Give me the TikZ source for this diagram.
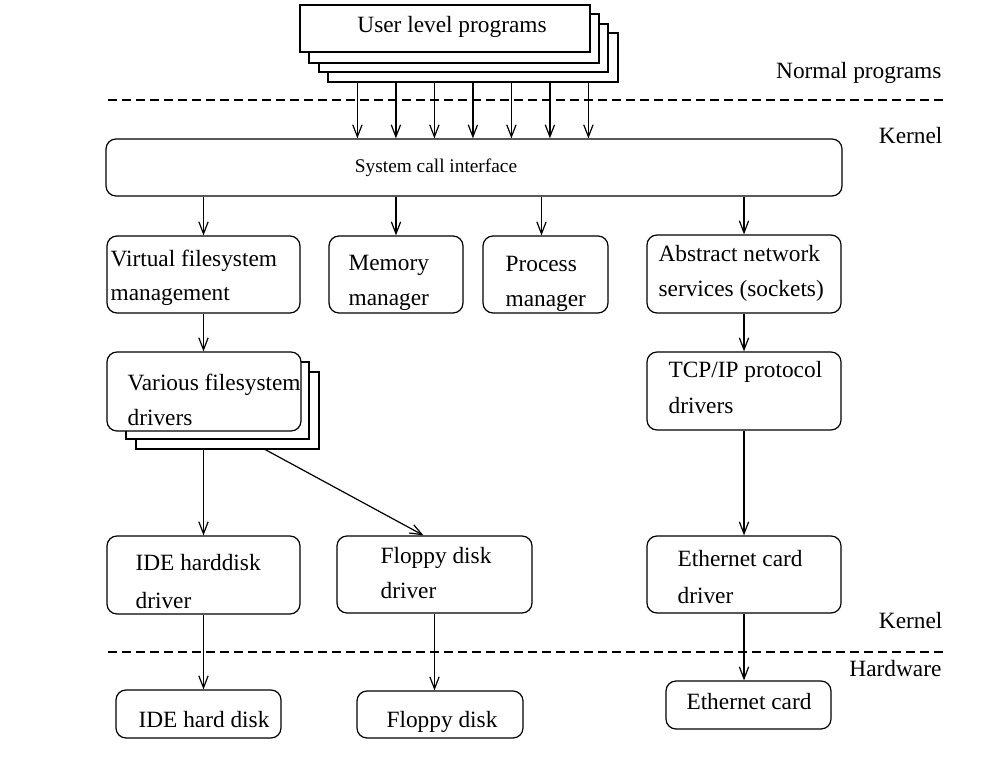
\documentclass[tikz,border=0pt]{standalone}
\usepackage{fontspec}
\setmainfont{Liberation Serif}
\usetikzlibrary{fit,calc,arrows.meta}
\begin{document}
\begin{tikzpicture}[x=0.75pt,y=-0.75pt,
  line width=0.9pt,
  box/.style={draw, rounded corners=7.5pt, inner sep=0pt, fill=white},
  sqbox/.style={draw, inner sep=0pt, fill=white},
  lbl/.style={inner sep=0pt, font=\fontsize{17.5}{20}\selectfont},
  arr/.style={-{Straight Barb[length=9pt,width=7pt]}},
  sep/.style={dash pattern=on 7pt off 3.5pt}
]
\useasboundingbox (0,0) rectangle (984,762);

% user level programs stack
\node[sqbox, fit={(328,33)(618,82)}] (prog4) {};
\node[sqbox, fit={(319,24)(608,72)}] (prog3) {};
\node[sqbox, fit={(309,14)(599,63)}] (prog2) {};
\node[sqbox, fit={(300,5)(590,52)}] (prog1) {};
\node[lbl] (progt) at (452,27) {User level programs};

% separators and region labels
\draw[sep] (108,100) -- (945,100);
\draw[sep] (108,652) -- (945,652);
\node[lbl, anchor=mid east] (normal) at (942,75) {Normal programs};
\node[lbl, anchor=mid east] (kern1) at (943,140) {Kernel};
\node[lbl, anchor=mid east] (kern2) at (943,625) {Kernel};
\node[lbl, anchor=mid east] (hw) at (942,673) {Hardware};

% system call interface
\node[box, fit={(106,139)(842,196)}] (sys) {};
\node[lbl, font=\fontsize{14.5}{17}\selectfont] (syst) at (436,168) {System call interface};

\foreach \d in {0,...,6} {
  \path ($(prog4.south west)+(30+38.5*\d,0)$) coordinate (t\d);
  \draw[arr] (t\d) -- (t\d |- sys.north);
}

% second row
\node[box, fit={(107,236)(300,313)}] (vfs) {};
\node[lbl, anchor=mid west] (vfs1) at (110,263) {Virtual filesystem};
\node[lbl, anchor=mid west] (vfs2) at (110,297) {management};

\node[box, fit={(329,236)(463,313)}] (mem) {};
\node[lbl, anchor=mid west] (mem1) at (348,267) {Memory};
\node[lbl, anchor=mid west] (mem2) at (348,302) {manager};

\node[box, fit={(483,236)(608,313)}] (proc) {};
\node[lbl, anchor=mid west] (proc1) at (505,268) {Process};
\node[lbl, anchor=mid west] (proc2) at (505,303) {manager};

\node[box, fit={(647,235)(841,313)}] (net) {};
\node[lbl, anchor=mid west] (net1) at (658,258) {Abstract network};
\node[lbl, anchor=mid west] (net2) at (658,293) {services (sockets)};

\draw[arr] (sys.south -| vfs.north) -- (vfs.north);
\draw[arr] (sys.south -| mem.north) -- (mem.north);
\draw[arr] ($(sys.south -| proc.north)+(-4,0)$) -- ($(proc.north)+(-4,0)$);
\draw[arr] (sys.south -| net.north) -- (net.north);

% third row
\node[sqbox, fit={(136,372)(319,449)}] (vsh2) {};
\node[sqbox, fit={(126,362)(309,439)}] (vsh1) {};
\node[box, fit={(107,352)(301,431)}] (various) {};
\node[lbl, anchor=mid west] (var1) at (127,387) {Various filesystem};
\node[lbl, anchor=mid west] (var2) at (127,422) {drivers};

\node[box, fit={(647,352)(841,430)}] (tcp) {};
\node[lbl, anchor=mid west] (tcp1) at (668,374) {TCP/IP protocol};
\node[lbl, anchor=mid west] (tcp2) at (668,410) {drivers};

\draw[arr] (vfs.south) -- (vfs.south |- various.north);
\draw[arr] (net.south) -- (tcp.north);

% fourth row
\node[box, fit={(107,536)(300,614)}] (ide) {};
\node[lbl, anchor=mid west] (ide1) at (135,567) {IDE harddisk};
\node[lbl, anchor=mid west] (ide2) at (135,605) {driver};

\node[box, fit={(337,536)(532,613)}] (fdd) {};
\node[lbl, anchor=mid west] (fdd1) at (380,560) {Floppy disk};
\node[lbl, anchor=mid west] (fdd2) at (380,595) {driver};

\node[box, fit={(647,536)(841,613)}] (eth) {};
\node[lbl, anchor=mid west] (eth1) at (677,563) {Ethernet card};
\node[lbl, anchor=mid west] (eth2) at (677,600) {driver};

\path ($(vsh2.south west)!0.705!(vsh2.south east)$) coordinate (dstart);
\draw[arr] (vsh2.south -| ide.north) -- (ide.north);
\draw[arr] (dstart) -- ($(fdd.north)+(-11,0)$);
\draw[arr] (tcp.south) -- (eth.north);

% hardware row
\node[box, fit={(116,690)(281,738)}] (idedisk) {};
\node[lbl] (idedt) at (204,720) {IDE hard disk};
\node[box, fit={(357,691)(523,738)}] (floppy) {};
\node[lbl] (flopt) at (442,722) {Floppy disk};
\node[box, fit={(666,681)(831,729)}] (ethcard) {};
\node[lbl] (etht) at (749,702) {Ethernet card};

\draw[arr] (ide.south) -- (ide.south |- idedisk.north);
\draw[arr] (fdd.south) -- (fdd.south |- floppy.north);
\draw[arr] (eth.south) -- (eth.south |- ethcard.north);
\end{tikzpicture}
\end{document}
